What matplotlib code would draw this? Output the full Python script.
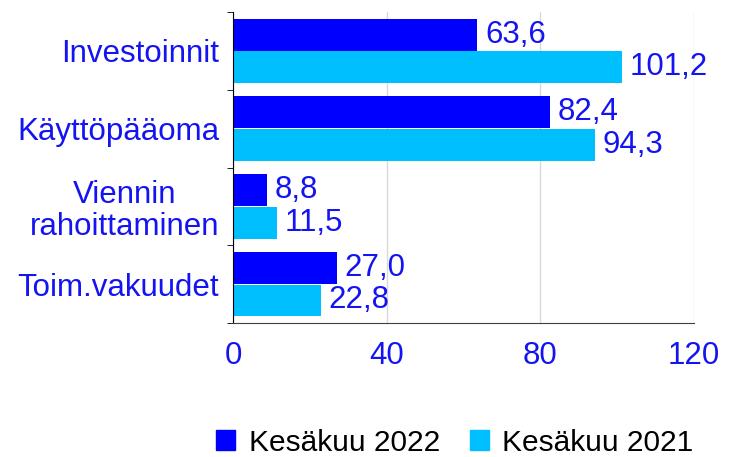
import numpy as np
import matplotlib.pyplot as plt
from matplotlib.patches import Patch

plt.rcParams['font.family'] = ['Liberation Sans', 'DejaVu Sans']

categories = ['Investoinnit', 'Käyttöpääoma', 'Viennin\nrahoittaminen', 'Toim.vakuudet']
kesa_2022 = [63.6, 82.4, 8.8, 27.0]
kesa_2021 = [101.2, 94.3, 11.5, 22.8]
series_names = ['Kesäkuu 2022', 'Kesäkuu 2021']
xticks = [0, 40, 80, 120]

dark = '#0000ff'
light = '#00bfff'
txt = '#1414f0'
fs = 22.5

fig = plt.figure(figsize=(7.31, 4.57), dpi=100)
ax = fig.add_axes([0.3187, 0.2932, 0.6307, 0.6805])

y = np.arange(len(categories))
h = 0.41
ax.barh(y - 0.21, kesa_2022, height=h, color=dark, zorder=2)
ax.barh(y + 0.21, kesa_2021, height=h, color=light, zorder=2)

for yy, v in zip(y - 0.21, kesa_2022):
    ax.text(v + 2, yy, f'{v:.1f}'.replace('.', ','), va='center', ha='left', fontsize=fs, color=txt)
for yy, v in zip(y + 0.21, kesa_2021):
    ax.text(v + 2, yy, f'{v:.1f}'.replace('.', ','), va='center', ha='left', fontsize=fs, color=txt)

ax.set_ylim(3.5, -0.5)
ax.set_xlim(0, 120)
ax.set_yticks(y)
ax.set_yticklabels(categories, fontsize=fs, color=txt, multialignment='center', linespacing=1.1)
ax.set_xticks(xticks)
ax.set_xticklabels([str(t) for t in xticks], fontsize=fs, color=txt)
ax.tick_params(axis='y', length=0, pad=10)
ax.tick_params(axis='x', length=0, pad=13)
ax.set_yticks(np.arange(-0.5, 4, 1), minor=True)
ax.tick_params(axis='y', which='minor', length=4, color='black')

ax.grid(axis='x', color='#d9d9d9', linewidth=1, zorder=0)
for s in ['top', 'right']:
    ax.spines[s].set_visible(False)
ax.spines['left'].set_color('black')
ax.spines['bottom'].set_color('#404040')

handles = [Patch(color=dark), Patch(color=light)]
fig.legend(handles, series_names, loc='lower center', bbox_to_anchor=(0.622, -0.058), ncol=2,
           frameon=False, fontsize=21.5, handlelength=0.65, handleheight=0.65,
           handletextpad=0.45, columnspacing=1.0)

fig.savefig('out.png', dpi=100)
